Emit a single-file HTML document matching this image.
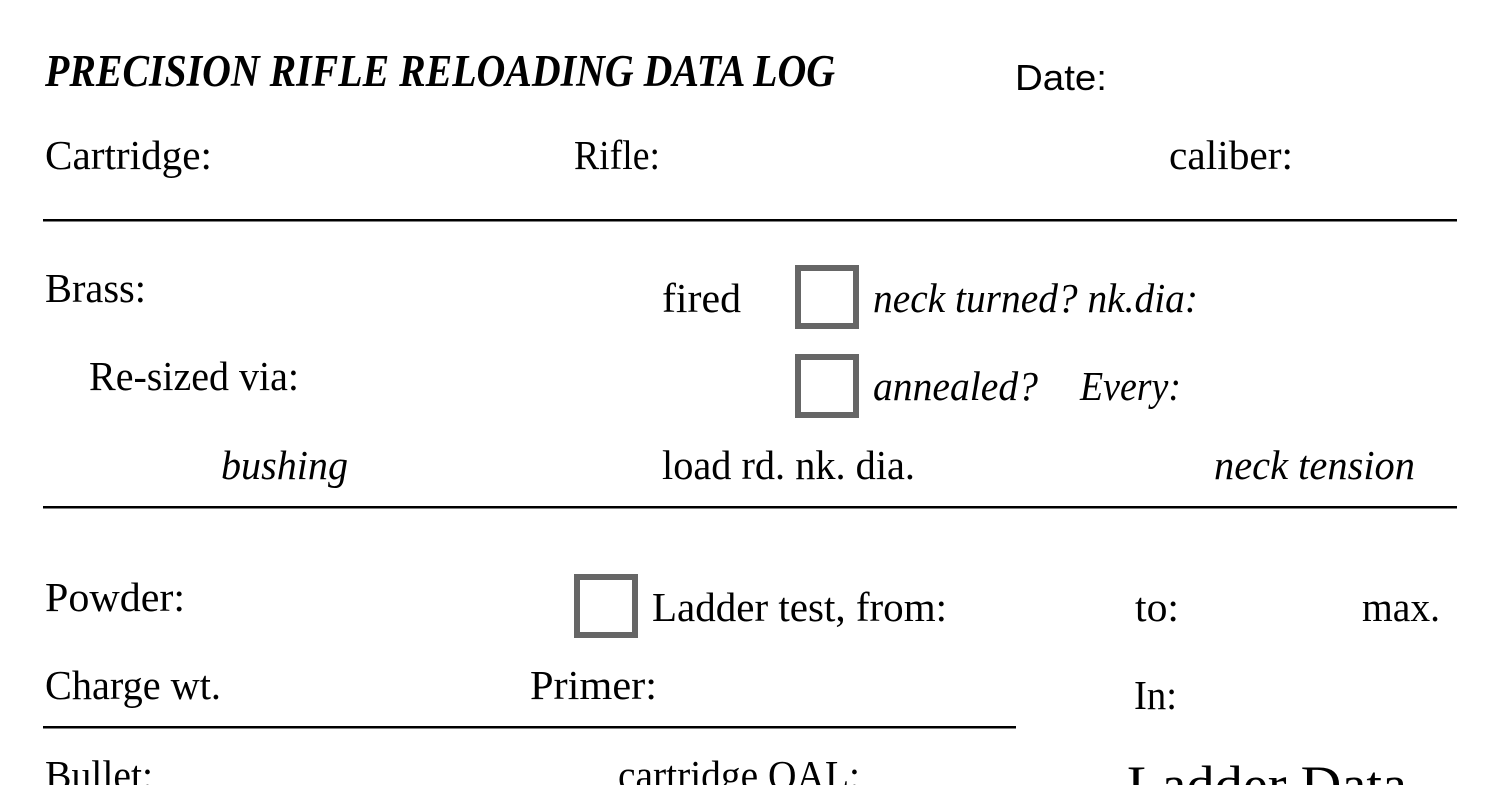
<!DOCTYPE html>
<html><head><meta charset="utf-8"><style>
html,body{margin:0;padding:0;background:#fff;}
svg{display:block}
text{font-family:"Liberation Serif",serif;fill:#000;}
.s{font-family:"Liberation Sans",sans-serif;}
</style></head><body>
<svg width="1500" height="785" viewBox="0 0 1500 785" xmlns="http://www.w3.org/2000/svg">
<rect width="1500" height="785" fill="#fff"/>
<text x="45" y="86" font-size="45" font-weight="bold" font-style="italic" textLength="790" lengthAdjust="spacingAndGlyphs">PRECISION RIFLE RELOADING DATA LOG</text>
<text class="s" x="1015" y="90" font-size="36" textLength="92" lengthAdjust="spacingAndGlyphs">Date:</text>

<text x="45" y="169" font-size="41" textLength="167" lengthAdjust="spacingAndGlyphs">Cartridge:</text>
<text x="574" y="169" font-size="41" textLength="86" lengthAdjust="spacingAndGlyphs">Rifle:</text>
<text x="1169" y="169" font-size="41" textLength="124" lengthAdjust="spacingAndGlyphs">caliber:</text>
<rect x="43" y="219" width="1414" height="2.5" fill="#000"/>

<text x="45" y="302" font-size="41" textLength="101" lengthAdjust="spacingAndGlyphs">Brass:</text>
<text x="662" y="312" font-size="41" textLength="79" lengthAdjust="spacingAndGlyphs">fired</text>
<rect x="798" y="268" width="58" height="58" fill="none" stroke="#666" stroke-width="6"/>
<text x="873" y="312" font-size="41" font-style="italic" textLength="325" lengthAdjust="spacingAndGlyphs">neck turned? nk.dia:</text>

<text x="89" y="390" font-size="41" textLength="210" lengthAdjust="spacingAndGlyphs">Re-sized via:</text>
<rect x="798" y="357" width="58" height="58" fill="none" stroke="#666" stroke-width="6"/>
<text x="873" y="400" font-size="41" font-style="italic" textLength="165" lengthAdjust="spacingAndGlyphs">annealed?</text>
<text x="1080" y="400" font-size="41" font-style="italic" textLength="101" lengthAdjust="spacingAndGlyphs">Every:</text>

<text x="221" y="479" font-size="41" font-style="italic" textLength="127" lengthAdjust="spacingAndGlyphs">bushing</text>
<text x="662" y="479" font-size="41" textLength="253" lengthAdjust="spacingAndGlyphs">load rd. nk. dia.</text>
<text x="1214" y="479" font-size="41" font-style="italic" textLength="201" lengthAdjust="spacingAndGlyphs">neck tension</text>
<rect x="43" y="506" width="1414" height="2.5" fill="#000"/>

<text x="45" y="611" font-size="41" textLength="140" lengthAdjust="spacingAndGlyphs">Powder:</text>
<rect x="577" y="577" width="58" height="58" fill="none" stroke="#666" stroke-width="6"/>
<text x="652" y="621" font-size="41" textLength="295" lengthAdjust="spacingAndGlyphs">Ladder test, from:</text>
<text x="1135" y="621" font-size="41" textLength="44" lengthAdjust="spacingAndGlyphs">to:</text>
<text x="1362" y="621" font-size="41" textLength="78" lengthAdjust="spacingAndGlyphs">max.</text>

<text x="45" y="699" font-size="41" textLength="176" lengthAdjust="spacingAndGlyphs">Charge wt.</text>
<text x="530" y="699" font-size="41" textLength="127" lengthAdjust="spacingAndGlyphs">Primer:</text>
<text x="1134" y="709" font-size="41" textLength="43" lengthAdjust="spacingAndGlyphs">In:</text>
<rect x="43" y="726" width="973" height="2.5" fill="#000"/>

<text x="45" y="789" font-size="41" textLength="108" lengthAdjust="spacingAndGlyphs">Bullet:</text>
<text x="618" y="789" font-size="41" textLength="242" lengthAdjust="spacingAndGlyphs">cartridge OAL:</text>
<text x="1127" y="803" font-size="54" textLength="280" lengthAdjust="spacingAndGlyphs">Ladder Data</text>
</svg>
</body></html>
